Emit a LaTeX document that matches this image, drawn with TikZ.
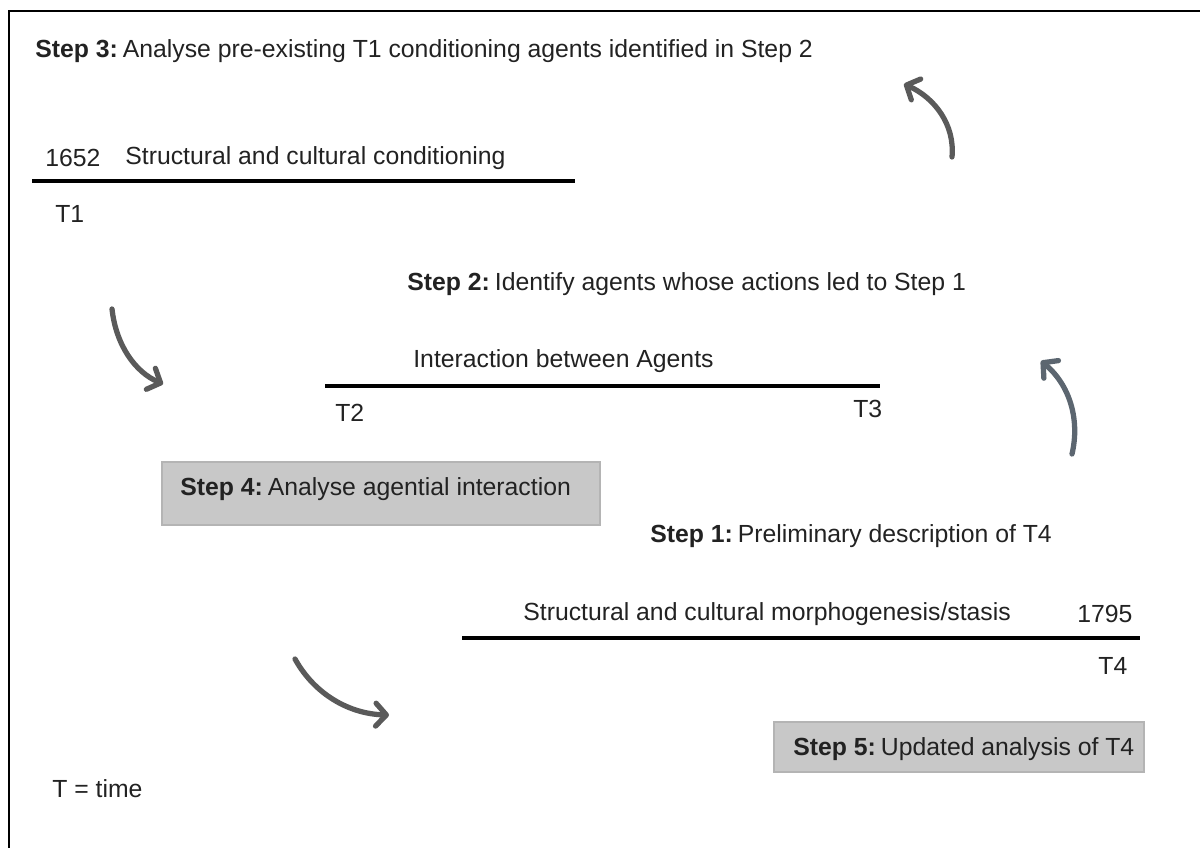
\documentclass[tikz,border=0pt]{standalone}
\usepackage{fontspec}
\setmainfont{Liberation Sans}
\usetikzlibrary{arrows.meta}
\definecolor{txt}{HTML}{222222}
\definecolor{arr}{HTML}{5A5A5A}
\definecolor{arrb}{HTML}{5C6670}
\definecolor{boxfill}{HTML}{C8C8C8}
\definecolor{boxedge}{HTML}{B4B4B4}
\newcommand{\stp}[1]{\textbf{#1}\hspace{0.2em}}
\tikzset{
  lbl/.style={anchor=west,inner sep=0pt,text=txt,font=\fontsize{14.1pt}{16pt}\selectfont},
  tline/.style={line width=2.4pt,black},
  stepbox/.style={fill=boxfill,draw=boxedge,line width=0.8pt,inner sep=0pt},
  curvy/.style={line width=3pt,color=arr,line cap=round,-{Straight Barb[length=6pt,width=13pt,round]}},
  frame/.style={line width=1.2pt,black}
}
\begin{document}
\begin{tikzpicture}[x=0.02cm,y=-0.02cm]
\useasboundingbox (0,0) rectangle (1200,848);
% frame (top and left only visible)
\coordinate (fTL) at (9,11);
\coordinate (fTR) at (1200,11);
\coordinate (fBL) at (9,848);
\draw[frame] (fTR) -- (fTL) -- (fBL);

% Step 3
\node[lbl] (s3) at (35,51) {\stp{Step 3:}Analyse pre-existing T1 conditioning agents identified in Step 2};

% T1 line
\node[lbl] (y1652) at (45,158) {1652};
\node[lbl] (cond) at (125,158) {Structural and cultural conditioning};
\coordinate (l1a) at (32,181);
\coordinate (l1b) at (575,181);
\draw[tline] (l1a) -- (l1b);
\node[lbl] (t1) at (55,214) {T1};

% Step 2
\node[lbl] (s2) at (407,284) {\stp{Step 2:}Identify agents whose actions led to Step 1};
\node[lbl] (inter) at (413,361) {Interaction between Agents};
\coordinate (l2a) at (325,386);
\coordinate (l2b) at (880,386);
\draw[tline] (l2a) -- (l2b);
\node[lbl] (t2) at (335,413) {T2};
\node[lbl] (t3) at (853,409) {T3};

% Step 4 box
\node[stepbox,minimum width=438*0.02cm,minimum height=63*0.02cm] (b4) at (381,493.5) {};
\node[lbl] (s4) at (180,489) {\stp{Step 4:}Analyse agential interaction};

% Step 1
\node[lbl] (s1) at (650,536) {\stp{Step 1:}Preliminary description of T4};
\node[lbl] (morph) at (523,614) {Structural and cultural morphogenesis/stasis};
\node[lbl] (y1795) at (1077,614) {1795};
\coordinate (l3a) at (462,638);
\coordinate (l3b) at (1140,638);
\draw[tline] (l3a) -- (l3b);
\node[lbl] (t4) at (1098,666) {T4};

% Step 5 box
\node[stepbox,minimum width=370*0.02cm,minimum height=50*0.02cm] (b5) at (959,747) {};
\node[lbl] (s5) at (793,749) {\stp{Step 5:}Updated analysis of T4};

% legend
\node[lbl] (tt) at (52,789) {T = time};

% curved arrows
\coordinate (aA1) at (952,157);
\coordinate (aA2) at (904,84);
\draw[curvy] (aA1) .. controls (955,125) and (935,98) .. (aA2);

\coordinate (aB1) at (112,309);
\coordinate (aB2) at (163,384);
\draw[curvy] (aB1) .. controls (116,345) and (135,372) .. (aB2);

\coordinate (aC1) at (1072,454);
\coordinate (aC2) at (1041,361);
\draw[curvy,color=arrb] (aC1) .. controls (1080,420) and (1070,385) .. (aC2);

\coordinate (aD1) at (295,659);
\coordinate (aD2) at (389,715);
\draw[curvy] (aD1) .. controls (315,695) and (350,714) .. (aD2);
\end{tikzpicture}
\end{document}
